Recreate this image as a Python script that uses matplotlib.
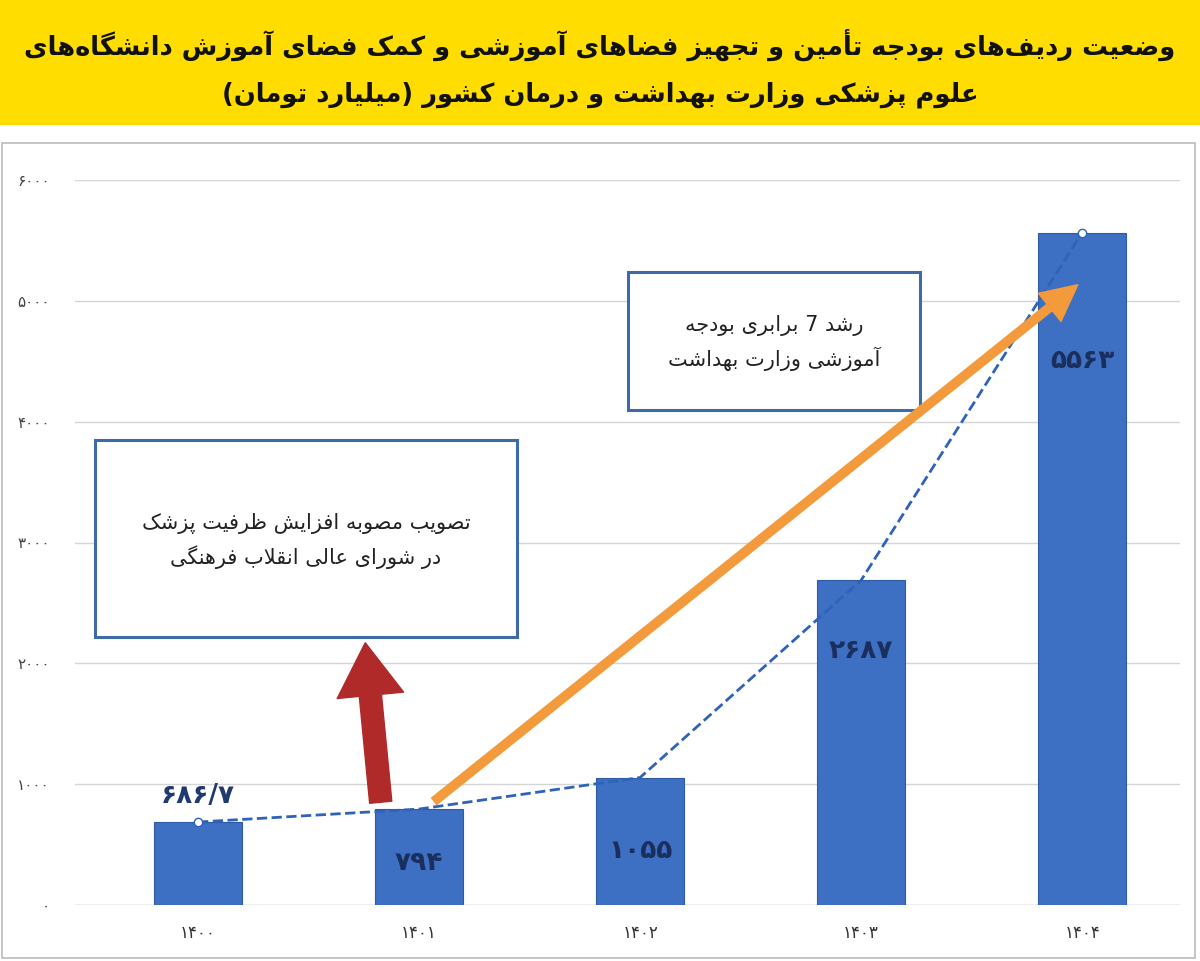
import matplotlib
matplotlib.use("Agg")
import matplotlib.pyplot as plt
from matplotlib.patches import Rectangle, FancyArrowPatch

# ---- minimal Persian shaping (no external libs) ----
D = {  # iso, fin, ini, med
 'ب':(0xFE8F,0xFE90,0xFE91,0xFE92),'پ':(0xFB56,0xFB57,0xFB58,0xFB59),
 'ت':(0xFE95,0xFE96,0xFE97,0xFE98),'ث':(0xFE99,0xFE9A,0xFE9B,0xFE9C),
 'ج':(0xFE9D,0xFE9E,0xFE9F,0xFEA0),'چ':(0xFB7A,0xFB7B,0xFB7C,0xFB7D),
 'ح':(0xFEA1,0xFEA2,0xFEA3,0xFEA4),'خ':(0xFEA5,0xFEA6,0xFEA7,0xFEA8),
 'س':(0xFEB1,0xFEB2,0xFEB3,0xFEB4),'ش':(0xFEB5,0xFEB6,0xFEB7,0xFEB8),
 'ص':(0xFEB9,0xFEBA,0xFEBB,0xFEBC),'ض':(0xFEBD,0xFEBE,0xFEBF,0xFEC0),
 'ط':(0xFEC1,0xFEC2,0xFEC3,0xFEC4),'ظ':(0xFEC5,0xFEC6,0xFEC7,0xFEC8),
 'ع':(0xFEC9,0xFECA,0xFECB,0xFECC),'غ':(0xFECD,0xFECE,0xFECF,0xFED0),
 'ف':(0xFED1,0xFED2,0xFED3,0xFED4),'ق':(0xFED5,0xFED6,0xFED7,0xFED8),
 'ک':(0xFB8E,0xFB8F,0xFB90,0xFB91),'گ':(0xFB92,0xFB93,0xFB94,0xFB95),
 'ل':(0xFEDD,0xFEDE,0xFEDF,0xFEE0),'م':(0xFEE1,0xFEE2,0xFEE3,0xFEE4),
 'ن':(0xFEE5,0xFEE6,0xFEE7,0xFEE8),'ه':(0xFEE9,0xFEEA,0xFEEB,0xFEEC),
 'ی':(0xFBFC,0xFBFD,0xFBFE,0xFBFF),
}
R = {'ا':(0xFE8D,0xFE8E),'آ':(0xFE81,0xFE82),'أ':(0xFE83,0xFE84),
     'د':(0xFEA9,0xFEAA),'ذ':(0xFEAB,0xFEAC),'ر':(0xFEAD,0xFEAE),
     'ز':(0xFEAF,0xFEB0),'ژ':(0xFB8A,0xFB8B),'و':(0xFEED,0xFEEE)}
LA = {'ا':(0xFEFB,0xFEFC),'آ':(0xFEF5,0xFEF6),'أ':(0xFEF7,0xFEF8)}

def shape(s):
    chars = list(s)
    n = len(chars)
    def joins_left(c):
        return c in D
    def joins(c):
        return c in D or c in R
    i = 0
    res = []
    while i < n:
        c = chars[i]
        prev = chars[i-1] if i > 0 else ''
        pj = joins_left(prev) if prev else False
        if c == 'ل' and i+1 < n and chars[i+1] in LA:
            f = LA[chars[i+1]]
            res.append(chr(f[1] if pj else f[0])); i += 2; continue
        nxt = chars[i+1] if i+1 < n else ''
        nj = joins(nxt) if nxt else False
        if c in D:
            f = D[c]
            if pj and nj: res.append(chr(f[3]))
            elif pj: res.append(chr(f[1]))
            elif nj: res.append(chr(f[2]))
            else: res.append(chr(f[0]))
        elif c in R:
            f = R[c]
            res.append(chr(f[1] if pj else f[0]))
        else:
            res.append(c)
        i += 1
    return res

def fa(s):
    parts = s.split('\u200c')
    res = []
    for p in parts:
        res.extend(shape(p))
    mir = {'(': ')', ')': '('}
    return ''.join(mir.get(c, c) for c in reversed(res))

PD = str.maketrans('0123456789.', '۰۱۲۳۴۵۶۷۸۹/')
def pdig(s):
    return s.translate(PD)

# ---- data ----
years = ['1400', '1401', '1402', '1403', '1404']
values = [686.7, 794, 1055, 2687, 5563]
value_labels = ['686.7', '794', '1055', '2687', '5563']
yticks = [0, 1000, 2000, 3000, 4000, 5000, 6000]

title1 = 'وضعیت ردیف\u200cهای بودجه تأمین و تجهیز فضاهای آموزشی و کمک فضای آموزش دانشگاه\u200cهای'
title2 = 'علوم پزشکی وزارت بهداشت و درمان کشور (میلیارد تومان)'
box1 = ['تصویب مصوبه افزایش ظرفیت پزشک', 'در شورای عالی انقلاب فرهنگی']
box2 = ['رشد 7 برابری بودجه', 'آموزشی وزارت بهداشت']

plt.rcParams['font.family'] = ['DejaVu Sans']
W, H = 1200, 961
fig = plt.figure(figsize=(12, 9.61), dpi=100)
fig.patch.set_facecolor('white')

def fx(x): return x / W
def fy(y): return 1 - y / H

fig.add_artist(Rectangle((0, fy(125)), 1, 125 / H, transform=fig.transFigure,
                         facecolor='#FFDD00', edgecolor='none', zorder=0))
fig.text(0.5, fy(45), fa(title1), ha='center', va='center', fontsize=18.5, fontweight='bold', color='#111111')
fig.text(0.5, fy(95), fa(title2), ha='center', va='center', fontsize=18.5, fontweight='bold', color='#111111')
fig.add_artist(Rectangle((fx(2), fy(958)), fx(1193), (958 - 143) / H, transform=fig.transFigure,
                         facecolor='none', edgecolor='#bbbbbb', lw=1.2, zorder=0))

x0, x1 = -0.557, 4.443
ax = fig.add_axes([fx(75), fy(905), fx(1105), (905 - 180) / H])
ax.set_xlim(x0, x1)
ax.set_ylim(0, 6000)
xs = list(range(len(years)))
ax.bar(xs, values, width=0.4, color='#3d6fc3', edgecolor='#2e5aa6', lw=0.8, zorder=3)
ax.plot(xs, values, ls='--', color='#2f63b8', lw=2, zorder=4)
ax.plot([xs[0], xs[-1]], [values[0], values[-1]], 'o', ms=6, mfc='white', mec='#2f63b8', zorder=5)
ax.set_yticks(yticks)
ax.set_yticklabels([pdig(str(t)) for t in yticks], fontsize=11, color='#444444')
ax.set_xticks(xs)
ax.set_xticklabels([pdig(y) for y in years], fontsize=12, color='#333333')
ax.tick_params(length=0, pad=18)
ax.tick_params(axis='x', pad=14)
ax.grid(axis='y', color='#d5d5d5', lw=1)
for s in ax.spines.values():
    s.set_visible(False)
ax.axhline(0, color='#cccccc', lw=1)

lab_y = [900, 350, 450, 2100, 4500]
lab_c = ['#1f3a6e', '#1a2f5c', '#1a2f5c', '#1a2f5c', '#1a2f5c']
for i, (v, l) in enumerate(zip(values, value_labels)):
    ax.text(xs[i], lab_y[i], pdig(l), ha='center', va='center', fontsize=19,
            fontweight='bold', color=lab_c[i], zorder=6)

def tbox(l, t, r, b, lines, fs, cy):
    fig.add_artist(Rectangle((fx(l), fy(b)), fx(r - l), (b - t) / H, transform=fig.transFigure,
                             facecolor='white', edgecolor='#3f6aa8', lw=2.2, zorder=7))
    n = len(lines)
    for k, ln in enumerate(lines):
        yy = cy + (k - (n - 1) / 2) * 34
        fig.text(fx((l + r) / 2), fy(yy), fa(ln), ha='center', va='center', fontsize=fs,
                 color='#222222', zorder=8)

tbox(95, 440, 517, 637, box1, 15, 540)
tbox(628, 272, 920, 410, box2, 15, 342)

fig.add_artist(FancyArrowPatch((fx(381), fy(805)), (fx(365), fy(640)), transform=fig.transFigure,
               arrowstyle='simple,head_width=2.4,head_length=1.9,tail_width=0.8', mutation_scale=20,
               color='#b02a2a', zorder=9))
fig.add_artist(FancyArrowPatch((fx(432), fy(803)), (fx(1080), fy(283)), transform=fig.transFigure,
               arrowstyle='simple,head_width=1.3,head_length=1.3,tail_width=0.3', mutation_scale=20,
               color='#f39a3d', zorder=9))

fig.savefig('out.png', dpi=100)
